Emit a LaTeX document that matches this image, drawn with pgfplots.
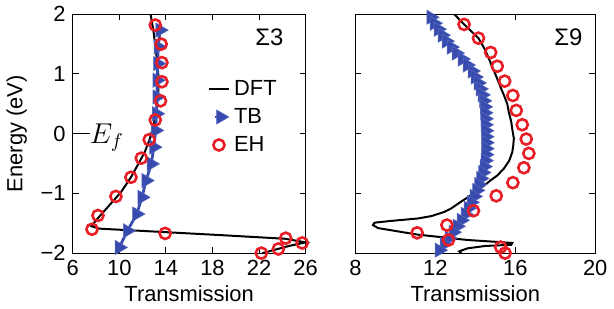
\documentclass[border=0pt]{standalone}
\usepackage{pgfplots}
\pgfplotsset{compat=1.18}
\usepackage{fontspec}
\setmainfont{Liberation Sans}
\definecolor{tbblue}{RGB}{55,75,175}
\definecolor{ehred}{RGB}{232,30,38}
\pgfplotsset{
  myax/.style={
    scale only axis, height=120pt,
    ymin=-2, ymax=2, ytick={-2,-1,0,1,2},
    tick align=inside, tick pos=both,
    major tick length=3pt,
    every tick/.style={black, line width=0.5pt},
    axis line style={line width=0.6pt},
    tick label style={font=\fontsize{11}{13}\selectfont},
    label style={font=\fontsize{11}{13}\selectfont},
    /pgf/number format/assume math mode=true,
    xlabel={Transmission},
    xlabel style={yshift=2pt},
    clip=false,
  },
  dft/.style={black, line width=1pt, no marks},
  tb/.style={mark=triangle*, mark size=4.1pt, color=tbblue, line width=1.4pt,
    mark options={rotate=-90, fill=tbblue, draw=tbblue!85!white, line width=0.3pt}},
  eh/.style={only marks, mark=o, mark size=2.8pt, color=ehred,
    mark options={line width=1.3pt}},
}
\begin{document}
\begin{tikzpicture}
\begin{axis}[myax, width=117pt, xmin=6, xmax=26, xtick={6,10,14,18,22,26},
  yticklabels={−2,−1,0,1,2},
  ylabel={Energy (eV)},
  legend style={at={(0.555,0.76)}, anchor=north west, draw=none, fill=none,
    font=\fontsize{11}{13}\selectfont, row sep=1pt,
    /tikz/every even column/.append style={column sep=1pt}},
  legend cell align=left]
\addplot[dft, legend image code/.code={\draw[black, line width=1pt] (0.05cm,0) -- (0.4cm,0);}] coordinates {
(12.69,2.0) (12.95,1.7) (13.2,1.3) (13.35,1.0) (13.35,0.7) (13.2,0.4)
(12.95,0.15) (12.6,-0.1) (12.2,-0.3) (11.71,-0.48) (11.0,-0.73)
(10.14,-0.98) (9.14,-1.2) (8.14,-1.42) (7.6,-1.55) (8.3,-1.59)
(13.14,-1.64) (18.86,-1.70) (24.29,-1.76) (26,-1.82) (24.57,-1.88) (22.29,-2.0)
};
\addlegendentry{DFT}
\addplot[tb, legend image code/.code={\draw[mark repeat=2,mark phase=2] plot coordinates {(0.15cm,0) (0.25cm,0) (0.35cm,0)};}] coordinates {
(13.5,1.735) (13.35,1.455) (13.3,1.175) (13.25,0.895) (13.25,0.615)
(13.2,0.335) (13.12,0.055) (12.97,-0.225) (12.75,-0.505) (12.3,-0.785)
(11.95,-1.065) (11.5,-1.345) (10.7,-1.625) (10.0,-1.905)
};
\addlegendentry{TB}
\addplot[eh, legend image code/.code={\draw plot coordinates {(0.22cm,0)};}] coordinates {
(13.09,1.82) (13.6,1.50) (13.66,1.19) (13.66,0.87) (13.54,0.55)
(13.09,0.23) (12.57,-0.10) (11.89,-0.41) (11.0,-0.73) (9.71,-1.05)
(8.17,-1.37) (7.66,-1.60) (13.94,-1.67) (24.29,-1.75) (25.71,-1.83)
(23.66,-1.93) (22.2,-2.0)
};
\addlegendentry{EH}
\draw[line width=0.6pt] (axis cs:6,0) -- (axis cs:7.45,0);
\node[anchor=west, inner sep=0pt, font=\fontsize{14}{16}\selectfont] at (axis cs:7.45,-0.07) {$E_f$};
\node[font=\fontsize{12}{14}\selectfont] at (axis cs:22.9,1.62) {Σ3};
\end{axis}
\begin{axis}[myax, width=120.5pt, at={(142pt,0)}, xmin=8, xmax=20, xtick={8,12,16,20},
  yticklabels={}]
\addplot[dft] coordinates {
(12.95,2.0) (13.44,1.83) (14.16,1.6) (14.5,1.4) (14.69,1.25) (14.9,1.08)
(15.1,0.92) (15.3,0.75) (15.44,0.64) (15.6,0.5) (15.68,0.36) (15.8,0.2)
(15.85,0.08) (15.93,-0.08) (15.9,-0.2) (15.85,-0.31) (15.7,-0.45)
(15.44,-0.58) (15.1,-0.7) (14.77,-0.78) (14.4,-0.88) (14.1,-0.94)
(13.7,-1.05) (13.28,-1.14) (12.8,-1.25) (12.45,-1.31) (11.8,-1.38)
(11.12,-1.42) (9.8,-1.46) (8.96,-1.49) (8.88,-1.53) (9.13,-1.58)
(10.2,-1.64) (11.12,-1.69) (12.5,-1.74) (13.61,-1.78) (15.0,-1.81)
(15.85,-1.83) (15.8,-1.86) (14.5,-1.88) (13.61,-1.92) (13.2,-1.97) (13.3,-2.0)
};
\addplot[tb] coordinates {
(11.78,1.95) (11.95,1.85) (12.15,1.75) (12.35,1.65) (12.55,1.55)
(12.8,1.45) (13.05,1.35) (13.35,1.25) (13.6,1.15) (13.85,1.05)
(14.0,0.95) (14.15,0.85) (14.25,0.75) (14.35,0.65) (14.42,0.55)
(14.46,0.45) (14.48,0.35) (14.5,0.25) (14.5,0.15) (14.52,0.05)
(14.53,-0.05) (14.54,-0.15) (14.54,-0.25) (14.53,-0.35) (14.5,-0.45)
(14.45,-0.55) (14.38,-0.65) (14.28,-0.75) (14.18,-0.85) (14.07,-0.95)
(13.95,-1.05) (13.8,-1.15) (13.65,-1.25) (13.5,-1.35) (13.3,-1.45)
(13.1,-1.55) (12.9,-1.65) (12.7,-1.75) (12.45,-1.85) (12.2,-1.95)
};
\addplot[eh] coordinates {
(13.44,1.83) (14.16,1.60) (14.77,1.36) (15.10,1.13) (15.47,0.88)
(15.88,0.64) (16.05,0.39) (16.35,0.15) (16.55,-0.09) (16.68,-0.33)
(16.43,-0.57) (15.88,-0.82) (15.05,-1.04) (13.91,-1.29) (12.58,-1.53)
(11.09,-1.66) (12.66,-1.78) (15.27,-1.90) (15.49,-2.0)
};
\node[font=\fontsize{12}{14}\selectfont] at (axis cs:18.66,1.62) {Σ9};
\end{axis}
\end{tikzpicture}
\end{document}
